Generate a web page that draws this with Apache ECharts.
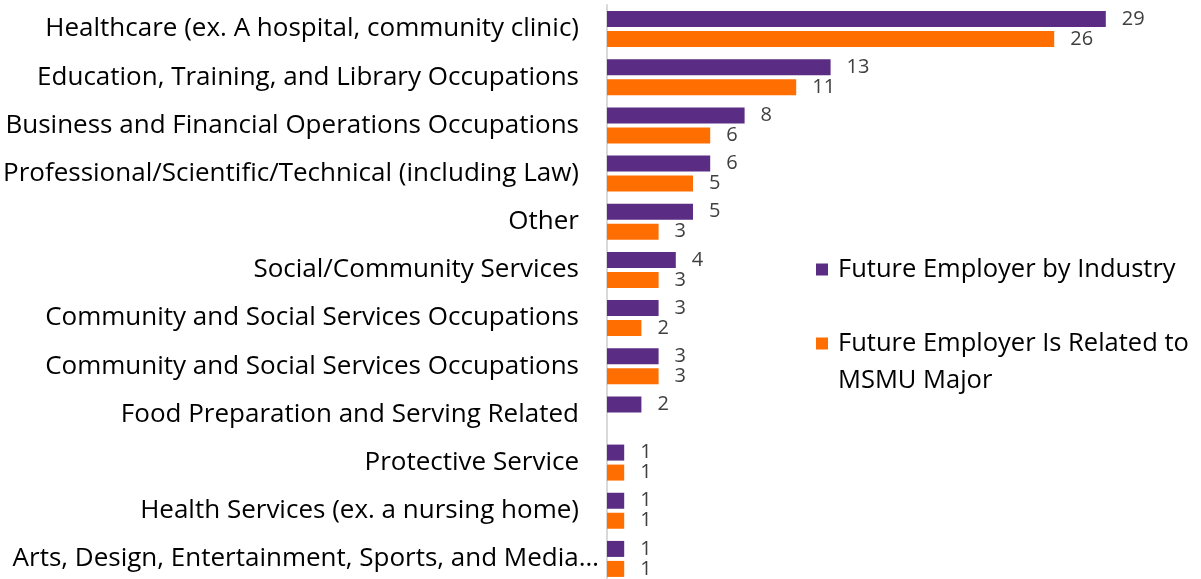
<!DOCTYPE html>
<html>
<head>
<meta charset="utf-8">
<script src="https://cdn.jsdelivr.net/npm/echarts@6/dist/echarts.min.js"></script>
<style>
  html, body { margin: 0; padding: 0; background: #fff; }
  #chart { width: 1201px; height: 579px; }
</style>
</head>
<body>
<div id="chart"></div>
<script>
// values
var categories = [
  'Healthcare (ex. A hospital, community clinic)',
  'Education, Training, and Library Occupations',
  'Business and Financial Operations Occupations',
  'Professional/Scientific/Technical (including Law)',
  'Other',
  'Social/Community Services',
  'Community and Social Services Occupations',
  'Community and Social Services Occupations',
  'Food Preparation and Serving Related',
  'Protective Service',
  'Health Services (ex. a nursing home)',
  'Arts, Design, Entertainment, Sports, and Media…'
]
var byIndustry = [29, 13, 8, 6, 5, 4, 3, 3, 2, 1, 1, 1]
var relatedToMajor = [26, 11, 6, 5, 3, 3, 2, 3, 0, 1, 1, 1]

var nameA = 'Future Employer by Industry'
var nameB = 'Future Employer Is Related to MSMU Major'

var font = "'Open Sans', sans-serif"

var chart = echarts.init(document.getElementById('chart'))

var valueLabel = {
  show: true,
  position: 'right',
  distance: 16,
  color: '#404040',
  fontSize: 20,
  fontFamily: font,
  formatter: function (p) { return p.value ? p.value : '' }
}

chart.setOption({
  animation: false,
  grid: {
    left: 607,
    right: 78,
    top: 5,
    height: 578,
    containLabel: false,
    outerBoundsMode: 'none'
  },
  legend: [
    {
      data: [nameA],
      orient: 'vertical',
      left: 811,
      top: 246,
      icon: 'rect',
      itemWidth: 12,
      itemHeight: 12,
      textStyle: { color: '#000', fontSize: 25.5, lineHeight: 37, fontFamily: font, padding: [0, 0, 0, 5] }
    },
    {
      data: [nameB],
      orient: 'vertical',
      left: 811,
      top: 283,
      icon: 'rect',
      itemWidth: 12,
      itemHeight: 12,
      // blank first line keeps the icon level with the first text line
      formatter: function () { return '\nFuture Employer Is Related to\nMSMU Major' },
      textStyle: { color: '#000', fontSize: 25.5, lineHeight: 37, fontFamily: font, padding: [0, 0, 0, 5] }
    }
  ],
  xAxis: {
    type: 'value',
    min: 0,
    max: 30,
    axisLabel: { show: false },
    axisLine: { show: false },
    axisTick: { show: false },
    splitLine: { show: false }
  },
  yAxis: {
    type: 'category',
    inverse: true,
    data: categories,
    axisTick: { show: false },
    axisLine: { show: true, lineStyle: { color: '#d9d9d9', width: 2 } },
    axisLabel: {
      color: '#000',
      fontSize: 26,
      fontFamily: font,
      margin: 8,
      // the truncated last label runs closer to the axis, as in the original
      formatter: function (v, i) {
        return i === categories.length - 1 ? '{last|' + v + '}' : '{n|' + v + '}'
      },
      rich: {
        n: { fontSize: 26, fontFamily: font, color: '#000', padding: [0, 20, 0, 0] },
        last: { fontSize: 26, fontFamily: font, color: '#000' }
      }
    }
  },
  series: [
    {
      name: nameA,
      type: 'bar',
      data: byIndustry,
      barWidth: 16,
      barGap: '25%',
      itemStyle: { color: '#5B2C83' },
      label: valueLabel
    },
    {
      name: nameB,
      type: 'bar',
      data: relatedToMajor,
      barWidth: 16,
      itemStyle: { color: '#FF6E00' },
      label: valueLabel
    }
  ]
})
</script>
</body>
</html>
